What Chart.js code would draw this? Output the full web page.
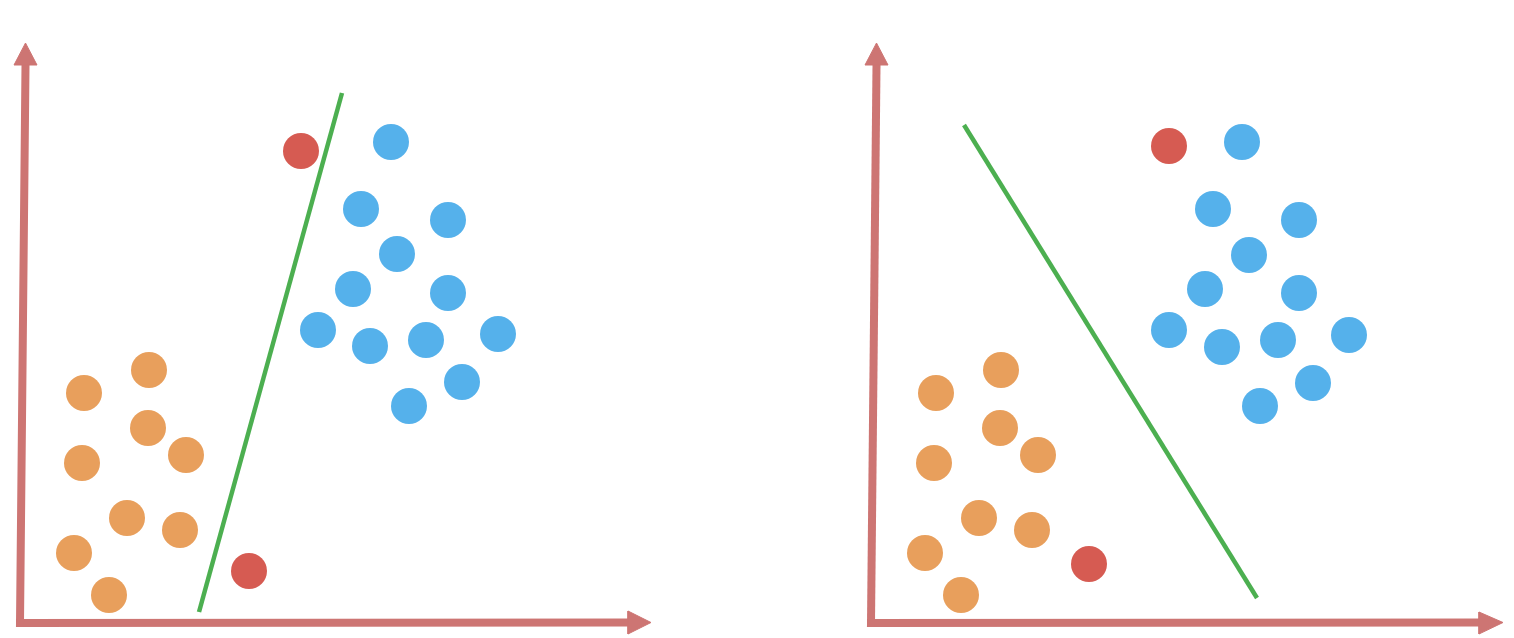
<!DOCTYPE html>
<html>
<head>
<meta charset="utf-8">
<script src="https://cdn.jsdelivr.net/npm/chart.js@4/dist/chart.umd.min.js"></script>
<style>
  html, body { margin: 0; padding: 0; background: #ffffff; }
  #wrap { position: relative; width: 1514px; height: 638px; overflow: hidden; }
  .panel { position: absolute; top: 0; width: 757px; height: 638px; }
  #p1 { left: 0; }
  #p2 { left: 757px; }
</style>
</head>
<body>
<div id="wrap">
  <div class="panel" id="p1"><canvas id="c1" width="757" height="638"></canvas></div>
  <div class="panel" id="p2"><canvas id="c2" width="757" height="638"></canvas></div>
</div>
<script>
// ---- Data (coordinates relative to each panel's axis origin) ----
const leftOrange = [
  {x:64,y:230},{x:129,y:253},{x:128,y:195},{x:166,y:168},{x:62,y:160},
  {x:107,y:105},{x:160,y:93},{x:54,y:70},{x:89,y:28}
];
const leftBlue = [
  {x:371,y:481},{x:341,y:414},{x:428,y:403},{x:377,y:369},{x:333,y:334},
  {x:428,y:330},{x:298,y:293},{x:350,y:277},{x:406,y:283},{x:478,y:289},
  {x:442,y:241},{x:389,y:217}
];
const leftRed = [ {x:281,y:472},{x:229,y:52} ];
const leftBoundary = [ {x:322,y:530},{x:179,y:11} ];

const rightOrange = [
  {x:65,y:230},{x:130,y:253},{x:129,y:195},{x:167,y:168},{x:63,y:160},
  {x:108,y:105},{x:161,y:93},{x:54,y:70},{x:90,y:28}
];
const rightBlue = [
  {x:371,y:481},{x:342,y:414},{x:428,y:403},{x:378,y:368},{x:334,y:334},
  {x:428,y:330},{x:298,y:293},{x:351,y:276},{x:407,y:283},{x:478,y:288},
  {x:442,y:240},{x:389,y:217}
];
const rightRed = [ {x:298,y:477},{x:218,y:59} ];
const rightBoundary = [ {x:93,y:498},{x:386,y:25} ];

// axis arrows (shaft end and arrow head) per panel
const leftYAxis = [ {x:0,y:0},{x:5.5,y:558} ];
const leftXAxis = [ {x:0,y:0},{x:608,y:0.5} ];
const leftYHead = [ {x:-6,y:558},{x:17,y:558},{x:5.5,y:580},{x:-6,y:558} ];
const leftXHead = [ {x:608,y:12},{x:608,y:-11},{x:631,y:0.5},{x:608,y:12} ];

const rightYAxis = [ {x:0,y:0},{x:5.5,y:558} ];
const rightXAxis = [ {x:0,y:0},{x:608,y:0.5} ];
const rightYHead = [ {x:-6,y:558},{x:17,y:558},{x:5.5,y:580},{x:-6,y:558} ];
const rightXHead = [ {x:608,y:11},{x:608,y:-11},{x:632,y:0.5},{x:608,y:11} ];

// ---- Styles ----
const ORANGE = '#e89f5c';
const BLUE = '#55b1eb';
const RED = '#d65b52';
const GREEN = '#4caf50';
const AXIS = '#cd7573';

function pts(data, color) {
  return { type: 'scatter', data, backgroundColor: color, borderWidth: 0,
           pointRadius: 18, pointHoverRadius: 18, clip: false, order: 1 };
}
function shaft(data) {
  return { type: 'line', data, borderColor: AXIS, borderWidth: 8, borderCapStyle: 'square',
           pointRadius: 0, fill: false, tension: 0, clip: false, order: 3 };
}
function head(data) {
  return { type: 'line', data, borderColor: AXIS, backgroundColor: AXIS, borderWidth: 1,
           pointRadius: 0, fill: 'shape', tension: 0, clip: false, order: 2 };
}
function boundary(data) {
  return { type: 'line', data, borderColor: GREEN, borderWidth: 4.5, borderCapStyle: 'butt',
           pointRadius: 0, fill: false, tension: 0, clip: false, order: 0 };
}

function makeChart(id, xMin, sets) {
  return new Chart(document.getElementById(id), {
    type: 'scatter',
    data: { datasets: sets },
    options: {
      responsive: false,
      animation: false,
      events: [],
      layout: { padding: 0, autoPadding: false },
      plugins: { legend: { display: false }, tooltip: { enabled: false } },
      scales: {
        x: { type: 'linear', min: xMin, max: xMin + 757, display: false },
        y: { type: 'linear', min: -15, max: 623, display: false }
      }
    }
  });
}

makeChart('c1', -20, [
  shaft(leftYAxis), shaft(leftXAxis), head(leftYHead), head(leftXHead),
  pts(leftOrange, ORANGE), pts(leftBlue, BLUE), pts(leftRed, RED),
  boundary(leftBoundary)
]);
makeChart('c2', -114, [
  shaft(rightYAxis), shaft(rightXAxis), head(rightYHead), head(rightXHead),
  pts(rightOrange, ORANGE), pts(rightBlue, BLUE), pts(rightRed, RED),
  boundary(rightBoundary)
]);
</script>
</body>
</html>
